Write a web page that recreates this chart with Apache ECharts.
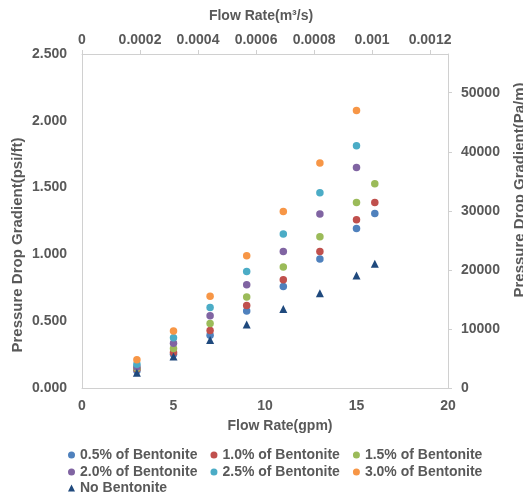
<!DOCTYPE html>
<html>
<head>
<meta charset="utf-8">
<script src="https://cdn.jsdelivr.net/npm/echarts@6/dist/echarts.min.js"></script>
<style>
  html, body { margin: 0; padding: 0; background: #ffffff; }
  #chart { width: 523px; height: 497px; }
</style>
</head>
<body>
<div id="chart"></div>
<script>
// Flow rates (gpm) at which the pressure drop gradient was measured
const flowGpm = [3, 5, 7, 9, 11, 13, 15, 16];

// Pressure drop gradient (psi/ft) for each bentonite concentration
const bent05 = [0.130, 0.252, 0.395, 0.577, 0.760, 0.965, 1.194, 1.307];
const bent10 = [0.140, 0.265, 0.430, 0.617, 0.810, 1.022, 1.259, 1.389];
const bent15 = [0.148, 0.295, 0.482, 0.682, 0.905, 1.132, 1.389, 1.529];
const bent20 = [0.157, 0.335, 0.540, 0.772, 1.022, 1.302, 1.651];
const bent25 = [0.178, 0.377, 0.602, 0.872, 1.152, 1.462, 1.814];
const bent30 = [0.212, 0.427, 0.687, 0.990, 1.322, 1.684, 2.077];
const noBent = [0.115, 0.235, 0.360, 0.475, 0.592, 0.710, 0.842, 0.930];

const seriesNames = [
  '0.5% of Bentonite', '1.0% of Bentonite', '1.5% of Bentonite',
  '2.0% of Bentonite', '2.5% of Bentonite', '3.0% of Bentonite',
  'No Bentonite'
];

// Axis tick values
const gpmTicks = [0, 5, 10, 15, 20];
const psiTicks = [0, 0.5, 1.0, 1.5, 2.0, 2.5];
const m3sTicks = [0, 0.0002, 0.0004, 0.0006, 0.0008, 0.001, 0.0012];
const paTicks = [0, 10000, 20000, 30000, 40000, 50000];

// Unit conversions used to align the secondary axes with the primary ones
const GPM_TO_M3S = 3.785411784e-3 / 60;
const PSIFT_TO_PAM = 6894.757 / 0.3048;

const colors = ['#4F81BD', '#C0504D', '#9BBB59', '#8064A2', '#4BACC6', '#F79646', '#1F497D'];
const FONT = "'Liberation Sans', Arial, sans-serif";
const TEXT_COLOR = '#595959';
const LINE_COLOR = '#d0d0d0';

const pairs = (vals) => vals.map((v, i) => [flowGpm[i], v]);
const seriesValues = [bent05, bent10, bent15, bent20, bent25, bent30, noBent];

const labelStyle = { color: TEXT_COLOR, fontFamily: FONT, fontWeight: 'bold', fontSize: 14 };

const chart = echarts.init(document.getElementById('chart'), null, { renderer: 'canvas' });

const legendRow = (names, top) => ({
  data: names,
  left: 68,
  top: top,
  orient: 'horizontal',
  itemWidth: 7,
  itemHeight: 7,
  itemGap: 13,
  padding: 0,
  selectedMode: false,
  textStyle: Object.assign({}, labelStyle)
});

const option = {
  animation: false,
  backgroundColor: '#ffffff',
  grid: { left: 82, right: 75, top: 54, bottom: 109, containLabel: false },
  xAxis: [
    {
      type: 'value', position: 'bottom', min: gpmTicks[0], max: gpmTicks[gpmTicks.length - 1], interval: 5,
      axisLine: { show: true, lineStyle: { color: LINE_COLOR, width: 1 } },
      axisTick: { show: false },
      splitLine: { show: false },
      axisLabel: Object.assign({ margin: 11 }, labelStyle)
    },
    {
      type: 'value', position: 'top', min: 0, max: gpmTicks[gpmTicks.length - 1] * GPM_TO_M3S,
      axisLine: { show: true, onZero: false, lineStyle: { color: LINE_COLOR, width: 1 } },
      axisTick: { show: true, length: 4, customValues: m3sTicks, lineStyle: { color: LINE_COLOR } },
      splitLine: { show: false },
      axisLabel: Object.assign({ margin: 7, customValues: m3sTicks, formatter: (v) => String(v) }, labelStyle)
    }
  ],
  yAxis: [
    {
      type: 'value', position: 'left', min: psiTicks[0], max: psiTicks[psiTicks.length - 1], interval: 0.5,
      axisLine: { show: true, lineStyle: { color: LINE_COLOR, width: 1 } },
      axisTick: { show: false },
      splitLine: { show: false },
      axisLabel: Object.assign({ margin: 15, formatter: (v) => v.toFixed(3) }, labelStyle)
    },
    {
      type: 'value', position: 'right', min: 0, max: psiTicks[psiTicks.length - 1] * PSIFT_TO_PAM,
      axisLine: { show: true, onZero: false, lineStyle: { color: LINE_COLOR, width: 1 } },
      axisTick: { show: true, length: 4, customValues: paTicks, lineStyle: { color: LINE_COLOR } },
      splitLine: { show: false },
      axisLabel: Object.assign({ margin: 13, customValues: paTicks, formatter: (v) => String(v) }, labelStyle)
    }
  ],
  legend: [
    legendRow(seriesNames.slice(0, 3), 448),
    legendRow(seriesNames.slice(3, 6), 465),
    legendRow(seriesNames.slice(6), 481)
  ],
  graphic: [
    { type: 'text', x: 261, y: 16, style: { text: 'Flow Rate(m³/s)', align: 'center', verticalAlign: 'middle', fill: TEXT_COLOR, font: "bold 14px " + FONT } },
    { type: 'text', x: 280, y: 426, style: { text: 'Flow Rate(gpm)', align: 'center', verticalAlign: 'middle', fill: TEXT_COLOR, font: "bold 14px " + FONT } },
    { type: 'text', x: 18, y: 245, rotation: Math.PI / 2, style: { text: 'Pressure Drop Gradient(psi/ft)', align: 'center', verticalAlign: 'middle', fill: TEXT_COLOR, font: "bold 15px " + FONT } },
    { type: 'text', x: 520, y: 190, rotation: Math.PI / 2, style: { text: 'Pressure Drop Gradient(Pa/m)', align: 'center', verticalAlign: 'middle', fill: TEXT_COLOR, font: "bold 15px " + FONT } }
  ],
  series: seriesValues.map((vals, i) => ({
    name: seriesNames[i],
    type: 'scatter',
    xAxisIndex: 0,
    yAxisIndex: 0,
    symbol: i === 6 ? 'triangle' : 'circle',
    symbolSize: i === 6 ? 8 : 7.5,
    itemStyle: { color: colors[i], opacity: 1 },
    emphasis: { disabled: true },
    data: pairs(vals)
  }))
};

chart.setOption(option);
</script>
</body>
</html>
